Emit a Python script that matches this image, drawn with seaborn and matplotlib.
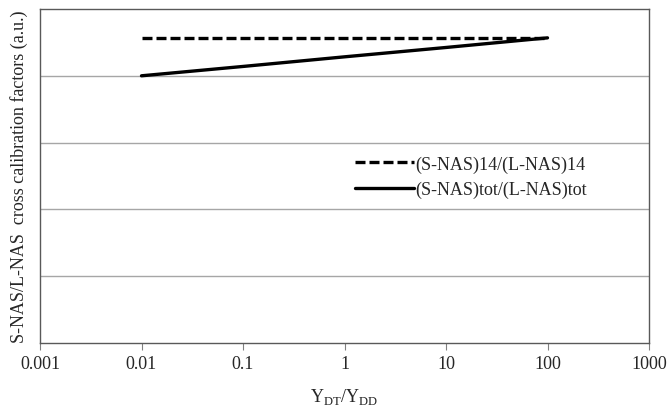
import numpy as np
import pandas as pd
import matplotlib
matplotlib.use("Agg")
import matplotlib.pyplot as plt
import seaborn as sns

x_vals = [0.01, 0.1, 1, 10, 100]
ratio_14 = [1.142, 1.142, 1.142, 1.142, 1.142]
ratio_tot = [1.000, 1.035, 1.071, 1.106, 1.142]
label_14 = "(S-NAS)14/(L-NAS)14"
label_tot = "(S-NAS)tot/(L-NAS)tot"
x_ticks = [0.001, 0.01, 0.1, 1, 10, 100, 1000]
x_tick_labels = ["0.001", "0.01", "0.1", "1", "10", "100", "1000"]

df = pd.DataFrame({
    "x": x_vals * 2,
    "y": ratio_14 + ratio_tot,
    "series": [label_14] * len(x_vals) + [label_tot] * len(x_vals),
})

sns.set_theme(style="white")
plt.rcParams["font.family"] = ["Liberation Serif", "DejaVu Serif"]
plt.rcParams["mathtext.fontset"] = "custom"
plt.rcParams["mathtext.rm"] = "Liberation Serif"

fig = plt.figure(figsize=(6.67, 4.14), dpi=100)
ax = fig.add_axes([40 / 667, 1 - 344 / 414, (649 - 40) / 667, (344 - 10) / 414])

sns.lineplot(data=df, x="x", y="y", style="series", hue="series",
             palette={label_14: "black", label_tot: "black"},
             dashes={label_14: (3.0, 1.2), label_tot: ""},
             linewidth=2.4, ax=ax, legend=True)

ax.set_xscale("log")
ax.set_xlim(0.001, 1000)
ax.set_ylim(0, 1.25)
ax.set_xticks(x_ticks)
ax.set_xticklabels(x_tick_labels, fontsize=13)
ax.minorticks_off()
ax.set_yticks([0.25, 0.5, 0.75, 1.0])
ax.set_yticklabels([])
ax.tick_params(axis="y", length=0)
ax.tick_params(axis="x", direction="out", length=5, width=0.8, color="#808080",
               bottom=True, pad=4)
ax.yaxis.grid(True, color="#a6a6a6", linewidth=1)
ax.xaxis.grid(False)
for s in ax.spines.values():
    s.set_color("#595959")
    s.set_linewidth(1)

ax.set_xlabel(r"Y$_{\mathrm{DT}}$/Y$_{\mathrm{DD}}$", fontsize=13, labelpad=10)
ax.set_ylabel("S-NAS/L-NAS  cross calibration factors (a.u.)", fontsize=13, labelpad=5)

leg = ax.legend(loc="upper left", bbox_to_anchor=(0.517, 0.562), frameon=False,
                fontsize=13, handlelength=3.3, handletextpad=0.05, labelspacing=0.45,
                borderpad=0, borderaxespad=0)

fig.savefig("out.png", dpi=100)
